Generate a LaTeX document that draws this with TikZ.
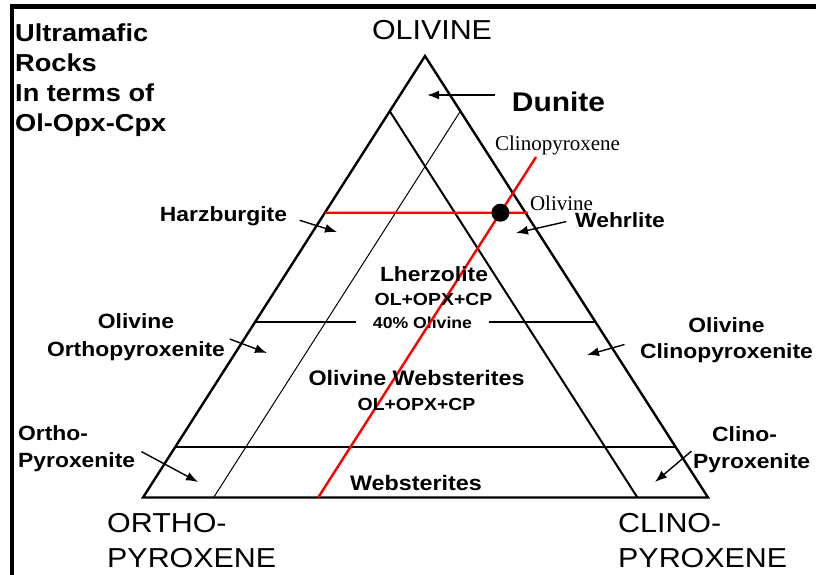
\documentclass[tikz,border=0pt]{standalone}
\usepackage{fontspec}
\setmainfont{Liberation Sans}[FakeStretch=1.11]
\newfontfamily\serifnote{Liberation Serif}
\usetikzlibrary{arrows.meta,calc}

\tikzset{
  field/.style={inner sep=0pt, anchor=base, font=\fontsize{20.6}{27}\selectfont\bfseries},
  endmember/.style={inner sep=0pt, font=\fontsize{27.4}{35}\selectfont},
  pointer/.style={line width=1.4pt, -{Latex[length=12pt,width=9pt]}},
  redline/.style={red, line width=2.4pt},
  rednote/.style={inner sep=0pt, anchor=base, font=\fontsize{21}{24}\serifnote},
}

\begin{document}
\begin{tikzpicture}[x=1pt,y=-1pt]
\useasboundingbox (0,0) rectangle (816,575);

% Frame
\fill (12,4) rectangle (816,9);
\fill (10,4) rectangle (14,575);

% Corners
\coordinate (ol) at (425,56);
\coordinate (opx) at (143,497.5);
\coordinate (cpx) at (708,497.5);

% Outline
\draw[line width=2.4pt] (ol) -- (opx) -- (cpx) -- cycle;

% Field boundaries
\draw[line width=2pt] ($(ol)!0.125!(opx)$) -- ($(cpx)!0.125!(opx)$);
\draw[line width=1pt] ($(ol)!0.125!(cpx)$) -- ($(opx)!0.125!(cpx)$);
\draw[line width=2pt] ($(ol)!0.885!(opx)$) -- ($(ol)!0.885!(cpx)$);

% 40% line, broken for its label
\node[field, font=\fontsize{15.9}{20}\selectfont\bfseries, inner xsep=17pt] (ol40) at (422.5,328) {40\% Olivine};
\coordinate (l40) at ($(ol)!0.603!(opx)$);
\coordinate (r40) at ($(ol)!0.603!(cpx)$);
\draw[line width=2pt] (l40) -- (l40 -| ol40.west);
\draw[line width=2pt] (r40 -| ol40.east) -- (r40);

% Red guide lines
\coordinate (cpxfoot) at ($(opx)!0.31!(cpx)$);
\coordinate (cpxtop) at (536,157);
\coordinate (olleft) at ($(ol)!0.355!(opx)$);
\coordinate (olright) at (528,212.7);
\draw[redline] (cpxfoot) -- (cpxtop);
\draw[redline] (olleft) -- (olright);
\fill (500.4,212.7) circle[radius=9pt];

% Red labels
\node[rednote] (cpxnote) at (557.5,150.5) {Clinopyroxene};
\node[rednote] (olnote) at (561.5,210.5) {Olivine};

% End members
\node[endmember, anchor=base] (olv) at (432,40) {OLIVINE};
\node[endmember, align=left, anchor=north west] (opxname) at (107,513) {ORTHO-\\PYROXENE};
\node[endmember, align=left, anchor=north west] (cpxname) at (618,513) {CLINO-\\PYROXENE};

% Title
\node[inner sep=0pt, align=left, anchor=north west, font=\fontsize{24.5}{30}\selectfont\bfseries] (title) at (15,24) {Ultramafic\\Rocks\\In terms of\\Ol-Opx-Cpx};

% Rock names
\node[field, font=\fontsize{27}{30}\selectfont\bfseries] (dun) at (558.5,112) {Dunite};
\node[field] (harz) at (223.5,221.7) {Harzburgite};
\node[field] (wehr) at (620,227) {Wehrlite};
\node[field] (lherz) at (434,281.7) {Lherzolite};
\node[field, font=\fontsize{17.5}{20}\selectfont\bfseries] (lherzmix) at (433.5,305) {OL+OPX+CP};
\node[field, font=\fontsize{21}{24}\selectfont\bfseries] (olweb) at (416.5,385) {Olivine Websterites};
\node[field, font=\fontsize{17.5}{20}\selectfont\bfseries] (olwebmix) at (416.5,410) {OL+OPX+CP};
\node[field, font=\fontsize{21}{24}\selectfont\bfseries] (web) at (416,490) {Websterites};
\node[field, anchor=north, align=center, font=\fontsize{20.6}{28}\selectfont\bfseries] (olopx) at (136,313.5) {Olivine\\Orthopyroxenite};
\node[field, anchor=north, align=center, font=\fontsize{20.6}{26}\selectfont\bfseries] (olcpx) at (726.5,317.4) {Olivine\\Clinopyroxenite};
\node[field, anchor=north west, align=left] (opxite) at (18,425) {Ortho-\\Pyroxenite};
\node[field, anchor=north west, align=left] (cpxite) at (693,426.5) {\hspace*{19pt}Clino-\\Pyroxenite};

% Pointers
\coordinate (dunpt) at (427,95);
\coordinate (harzpt) at (337,232);
\coordinate (wehrpt) at (516,233);
\coordinate (olopxpt) at (267,353);
\coordinate (olcpxpt) at (587,355);
\coordinate (opxitept) at (198,482);
\coordinate (cpxitept) at (655,482);

\draw[pointer, line width=2pt, shorten <=17pt] (dun.west |- dunpt) -- (dunpt);
\draw[pointer, shorten <=13pt] (harz.east) -- (harzpt);
\draw[pointer, shorten <=9pt] (wehr.west) -- (wehrpt);
\draw[pointer, shorten <=5pt] (olopx.east) -- (olopxpt);
\draw[pointer, shorten <=16pt] (olcpx.west) -- (olcpxpt);
\draw[pointer, shorten <=7pt] (opxite.east) -- (opxitept);
\draw[pointer, shorten <=2pt] (cpxite.west) -- (cpxitept);

\end{tikzpicture}
\end{document}
